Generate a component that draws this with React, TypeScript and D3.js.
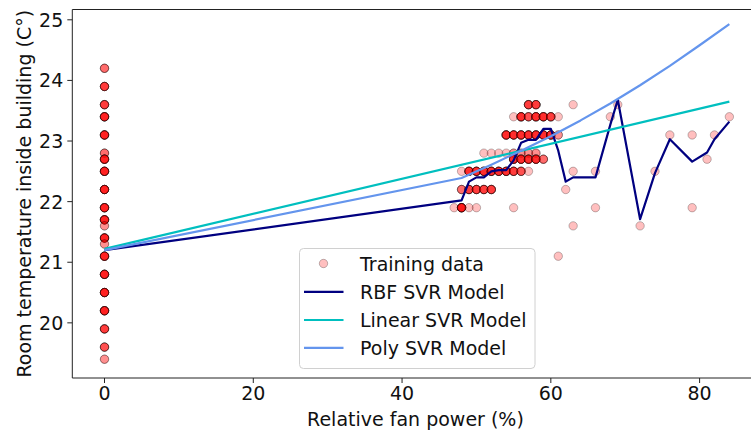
import React from "react";
import * as d3 from "d3";

// ---- data ----
// training points: fan power (%), room temperature (°C), number of overlapping samples
const trainFan = [
  0, 0, 0, 0, 0, 0, 0, 0, 0, 0, 0, 0, 0, 0, 0, 0, 0, 0, 0, 0, 0,
  57, 58, 63, 69,
  55, 56, 57, 58, 59, 60, 61, 68, 84,
  54, 55, 56, 57, 58, 59, 60, 61, 76, 79, 82,
  51, 52, 53, 54, 55, 56, 57, 58,
  55, 56, 57, 58, 59, 81,
  48, 49, 50, 51, 52, 53, 54, 55, 56, 57, 63, 66, 74,
  48, 49, 50, 51, 52, 62,
  47, 48, 49, 50, 55, 66, 79,
  63, 72,
  61,
];
const trainTemp = [
  24.2, 23.9, 23.6, 23.4, 23.1, 22.8, 22.7, 22.5, 22.2, 21.9, 21.7, 21.6, 21.4, 21.3, 21.1, 20.8, 20.5, 20.2, 19.9, 19.6, 19.4,
  23.6, 23.6, 23.6, 23.6,
  23.4, 23.4, 23.4, 23.4, 23.4, 23.4, 23.4, 23.4, 23.4,
  23.1, 23.1, 23.1, 23.1, 23.1, 23.1, 23.1, 23.1, 23.1, 23.1, 23.1,
  22.8, 22.8, 22.8, 22.8, 22.8, 22.8, 22.8, 22.8,
  22.7, 22.7, 22.7, 22.7, 22.7, 22.7,
  22.5, 22.5, 22.5, 22.5, 22.5, 22.5, 22.5, 22.5, 22.5, 22.5, 22.5, 22.5, 22.5,
  22.2, 22.2, 22.2, 22.2, 22.2, 22.2,
  21.9, 21.9, 21.9, 21.9, 21.9, 21.9, 21.9,
  21.6, 21.6,
  21.1,
];
const trainCount = [
  3, 5, 5, 7, 7, 3, 7, 7, 7, 7, 7, 2, 7, 2, 7, 7, 7, 7, 5, 4, 2,
  5, 5, 1, 1,
  1, 6, 4, 6, 6, 5, 1, 1, 1,
  6, 6, 6, 6, 6, 6, 6, 2, 1, 1, 1,
  1, 1, 1, 1, 2, 2, 2, 2,
  6, 6, 6, 6, 3, 1,
  1, 6, 6, 6, 6, 6, 6, 5, 4, 1, 1, 1, 1,
  3, 5, 5, 5, 5, 1,
  1, 8, 1, 1, 1, 1, 1,
  1, 1,
  1,
];

// RBF SVR predictions
const rbfFan = [0, 48, 49, 50, 51, 52, 53, 54, 55, 56, 57, 58, 59, 60, 61, 62, 63, 66, 68, 69, 72, 74, 76, 79, 81, 82, 84];
const rbfTemp = [21.2, 22.02, 22.33, 22.4, 22.4, 22.5, 22.52, 22.52, 22.68, 22.97, 23.02, 23.02, 23.2, 23.2, 22.84, 22.33, 22.4, 22.4, 23.27, 23.68, 21.71, 22.47, 23.03, 22.66, 22.81, 23.03, 23.32];

// Linear SVR predictions
const linFan = [0, 84];
const linTemp = [21.22, 23.65];

// Poly SVR predictions
const polyFan = [0, 48, 52, 56, 60, 64, 68, 72, 76, 80, 84];
const polyTemp = [21.2, 22.39, 22.61, 22.84, 23.08, 23.34, 23.62, 23.92, 24.24, 24.58, 24.93];

const xTicks = [0, 20, 40, 60, 80];
const yTicks = [20, 21, 22, 23, 24, 25];

const seriesNames = ["Training data", "RBF SVR Model", "Linear SVR Model", "Poly SVR Model"];

// ---- layout ----
const W = 751;
const H = 432;
const left = 72.3;
const right = 760.6;
const top = 9.5;
const bottom = 378;
const FONT = "'DejaVu Sans', sans-serif";
const FS = 19;

const x = d3.scaleLinear().domain([-4.33, 88.2]).range([left, right]);
const y = d3.scaleLinear().domain([19.09, 25.17]).range([bottom, top]);

const line = d3
  .line<[number, number]>()
  .x((d) => x(d[0]))
  .y((d) => y(d[1]));

const zip = (a: number[], b: number[]) => a.map((v, i) => [v, b[i]] as [number, number]);

const models = [
  { name: seriesNames[1], color: "#000080", pts: zip(rbfFan, rbfTemp) },
  { name: seriesNames[2], color: "#00bfbf", pts: zip(linFan, linTemp) },
  { name: seriesNames[3], color: "#6495ed", pts: zip(polyFan, polyTemp) },
];

export default function App() {
  const circles: React.ReactNode[] = [];
  trainFan.forEach((f, i) => {
    for (let k = 0; k < trainCount[i]; k++) {
      circles.push(
        <circle
          key={`p${i}-${k}`}
          cx={x(f)}
          cy={y(trainTemp[i])}
          r={4.2}
          fill="red"
          fillOpacity={0.25}
          stroke="black"
          strokeOpacity={0.25}
          strokeWidth={1}
        />
      );
    }
  });

  const legX = 299.5;
  const legY = 248.5;
  const legW = 235.5;
  const legH = 120;
  const rowY = [263.5, 291.8, 320, 347.8];

  return (
    <svg
      width={W}
      height={H}
      style={{ position: "absolute", left: 0, top: 0, background: "white" }}
      fontFamily={FONT}
    >
      <defs>
        <clipPath id="plotclip">
          <rect x={left} y={top} width={right - left} height={bottom - top} />
        </clipPath>
      </defs>
      <rect x={0} y={0} width={W} height={H} fill="white" />
      <g clipPath="url(#plotclip)">
        {circles}
        {models.map((m) => (
          <path key={m.name} d={line(m.pts) || ""} fill="none" stroke={m.color} strokeWidth={2.2} strokeLinejoin="round" />
        ))}
      </g>
      {/* spines */}
      <line x1={left} x2={left} y1={top} y2={bottom} stroke="#222" strokeWidth={1} />
      <line x1={left} x2={right} y1={bottom} y2={bottom} stroke="#222" strokeWidth={1} />
      <line x1={left} x2={right} y1={top} y2={top} stroke="#222" strokeWidth={1} />
      {/* x ticks */}
      {xTicks.map((t) => (
        <g key={`xt${t}`}>
          <line x1={x(t)} x2={x(t)} y1={bottom} y2={bottom + 5} stroke="#222" strokeWidth={1} />
          <text x={x(t)} y={bottom + 21.5} fontSize={FS} textAnchor="middle" fill="#111">
            {t}
          </text>
        </g>
      ))}
      {/* y ticks */}
      {yTicks.map((t) => (
        <g key={`yt${t}`}>
          <line x1={left - 5} x2={left} y1={y(t)} y2={y(t)} stroke="#222" strokeWidth={1} />
          <text x={left - 9} y={y(t) + 7} fontSize={FS} textAnchor="end" fill="#111">
            {t}
          </text>
        </g>
      ))}
      <text x={(left + right) / 2 - 1} y={426} fontSize={FS} textAnchor="middle" fill="#111">
        Relative fan power (%)
      </text>
      <text
        transform={`translate(30.5, ${(top + bottom) / 2}) rotate(-90)`}
        fontSize={FS}
        textAnchor="middle"
        fill="#111"
      >
        Room temperature inside building (C°)
      </text>
      {/* legend */}
      <rect x={legX} y={legY} width={legW} height={legH} rx={4} fill="white" fillOpacity={0.8} stroke="#d0d0d0" strokeWidth={1} />
      <circle cx={323.5} cy={rowY[0]} r={4.2} fill="red" fillOpacity={0.25} stroke="black" strokeOpacity={0.25} />
      {models.map((m, i) => (
        <line key={`lg${i}`} x1={304} x2={343.5} y1={rowY[i + 1]} y2={rowY[i + 1]} stroke={m.color} strokeWidth={2.2} />
      ))}
      {seriesNames.map((n, i) => (
        <text key={`lt${i}`} x={360} y={rowY[i] + 7} fontSize={FS} fill="#111">
          {n}
        </text>
      ))}
    </svg>
  );
}
